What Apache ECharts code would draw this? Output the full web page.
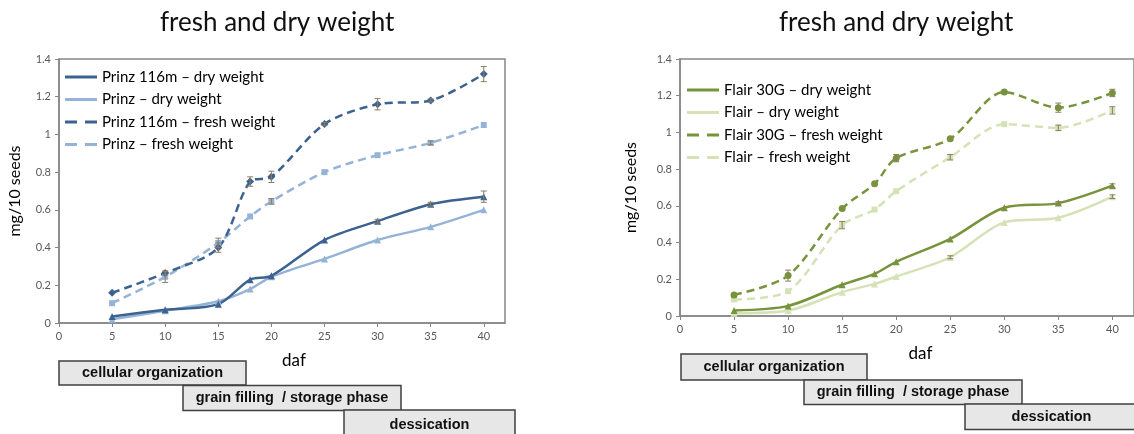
<!DOCTYPE html>
<html>
<head>
<meta charset="utf-8">
<script src="https://cdn.jsdelivr.net/npm/echarts@6/dist/echarts.min.js"></script>
<style>html,body{margin:0;padding:0;background:#fff}#c{width:1134px;height:434px}</style>
</head>
<body>
<div id="c"></div>
<script>
// ---- data ----
const daf = [5, 10, 15, 18, 20, 25, 30, 35, 40];
const xTicks = [0, 5, 10, 15, 20, 25, 30, 35, 40];
const yTicks = [0, 0.2, 0.4, 0.6, 0.8, 1, 1.2, 1.4];

const prinz116mDry   = [0.035, 0.07, 0.10, 0.23, 0.25, 0.44, 0.54, 0.63, 0.67];
const prinzDry       = [0.02, 0.065, 0.115, 0.18, 0.245, 0.34, 0.44, 0.51, 0.60];
const prinz116mFresh = [0.16, 0.265, 0.40, 0.75, 0.775, 1.055, 1.16, 1.18, 1.32];
const prinzFresh     = [0.105, 0.245, 0.425, 0.565, 0.645, 0.80, 0.89, 0.955, 1.05];
const prinz116mDryErr   = [0, 0, 0, 0, 0, 0, 0.01, 0.01, 0.03];
const prinzDryErr       = [0, 0, 0, 0, 0, 0, 0, 0, 0];
const prinz116mFreshErr = [0, 0.01, 0.025, 0.025, 0.03, 0.008, 0.03, 0.008, 0.04];
const prinzFreshErr     = [0, 0.03, 0.025, 0, 0.015, 0, 0, 0.01, 0];

const flair30gDry   = [0.03, 0.055, 0.17, 0.23, 0.295, 0.42, 0.59, 0.615, 0.71];
const flairDry      = [0.015, 0.03, 0.13, 0.175, 0.215, 0.32, 0.51, 0.535, 0.65];
const flair30gFresh = [0.115, 0.22, 0.585, 0.72, 0.86, 0.965, 1.22, 1.135, 1.215];
const flairFresh    = [0.09, 0.135, 0.495, 0.58, 0.68, 0.865, 1.045, 1.025, 1.12];
const flair30gDryErr   = [0, 0, 0, 0, 0, 0, 0, 0.008, 0.01];
const flairDryErr      = [0, 0, 0, 0, 0, 0.008, 0, 0, 0.01];
const flair30gFreshErr = [0, 0.03, 0, 0, 0.02, 0, 0, 0.025, 0.02];
const flairFreshErr    = [0, 0, 0.02, 0, 0, 0.015, 0, 0.015, 0.02];

const titles = ['fresh and dry weight', 'fresh and dry weight'];
const yName = 'mg/10 seeds';
const xName = 'daf';
const phases = ['cellular organization', 'grain filling  / storage phase', 'dessication'];

// ---- styles ----
const DARK_BLUE = '#3c6290', LIGHT_BLUE = '#95b3d7';
const DARK_GREEN = '#77933c', LIGHT_GREEN = '#d4e2b6';
const ERR = '#8c7d60';
const FONT = 'Lato';
const SOLID = 'path://M0,0H32V3H0Z';
const DASH = 'path://M0,0H12V3H0Z M20,0H32V3H20Z';

function pts(v) { return daf.map((d, i) => [d, v[i]]); }
function errPts(v, e) { return daf.map((d, i) => [d, v[i], e[i]]); }

function lineSeries(name, idx, vals, color, dashed, symbol, size) {
  return {
    name, type: 'line', xAxisIndex: idx, yAxisIndex: idx, data: pts(vals),
    smooth: 0.3, symbol, symbolSize: size, showSymbol: true,
    lineStyle: { color, width: 2.5, type: dashed ? [8, 5] : 'solid' },
    itemStyle: { color }, z: 3
  };
}
function errSeries(idx, vals, errs) {
  return {
    type: 'custom', xAxisIndex: idx, yAxisIndex: idx, data: errPts(vals, errs), z: 4,
    silent: true,
    renderItem(params, api) {
      const x = api.value(0), y = api.value(1), e = api.value(2);
      if (!e) return null;
      const t = api.coord([x, y + e]), b = api.coord([x, y - e]);
      const w = 3;
      const st = { stroke: ERR, lineWidth: 1 };
      return { type: 'group', children: [
        { type: 'line', shape: { x1: t[0], y1: t[1], x2: b[0], y2: b[1] }, style: st },
        { type: 'line', shape: { x1: t[0] - w, y1: t[1], x2: t[0] + w, y2: t[1] }, style: st },
        { type: 'line', shape: { x1: b[0] - w, y1: b[1], x2: b[0] + w, y2: b[1] }, style: st }
      ]};
    }
  };
}

function xAxis(idx, namePad) {
  return {
    type: 'value', gridIndex: idx, min: 0, max: 42, interval: 5,
    name: xName, nameLocation: 'middle', nameGap: 29,
    nameTextStyle: { fontFamily: FONT, fontSize: 17, color: '#000', padding: [0, 0, 0, namePad] },
    axisLine: { show: true, lineStyle: { color: '#868686', width: 1.5 } },
    axisTick: { show: true, length: 4, lineStyle: { color: '#868686' }, customValues: xTicks },
    axisLabel: { fontFamily: FONT, fontSize: 11, color: '#595959', margin: 8, customValues: xTicks },
    splitLine: { show: false }
  };
}
function yAxis(idx, gap) {
  return {
    type: 'value', gridIndex: idx, min: 0, max: 1.4, interval: 0.2,
    name: yName, nameLocation: 'middle', nameGap: gap, nameRotate: 90,
    nameTextStyle: { fontFamily: FONT, fontSize: 16, color: '#000' },
    axisLine: { show: true, lineStyle: { color: '#868686', width: 1.5 } },
    axisTick: { show: true, length: 4, lineStyle: { color: '#868686' } },
    axisLabel: { fontFamily: FONT, fontSize: 11, color: '#595959', margin: 8,
      formatter: v => String(Math.round(v * 10) / 10) },
    splitLine: { show: false }
  };
}
function legend(left, top, names, icons) {
  return {
    orient: 'vertical', left, top, padding: 0, itemWidth: 32, itemHeight: 3, itemGap: 6.5,
    data: names.map((n, i) => ({ name: n, icon: icons[i] })),
    textStyle: { fontFamily: FONT, fontSize: 15, color: '#000', lineHeight: 16, padding: [0, 0, 0, 0] },
    selectedMode: false
  };
}
function phaseBox(x, y, w, h, label) {
  return { type: 'group', x, y, children: [
    { type: 'rect', shape: { x: 0, y: 0, width: w, height: h }, style: { fill: '#e7e7e7', stroke: '#404040', lineWidth: 1.5 } },
    { type: 'text', x: w / 2, y: h / 2, style: { text: label, fill: '#111', font: 'bold 14.5px "Liberation Sans", Arial, sans-serif', align: 'center', verticalAlign: 'middle' } }
  ]};
}

const leftNames = ['Prinz 116m – dry weight', 'Prinz – dry weight', 'Prinz 116m – fresh weight', 'Prinz – fresh weight'];
const rightNames = ['Flair 30G – dry weight', 'Flair – dry weight', 'Flair 30G – fresh weight', 'Flair – fresh weight'];

const option = {
  backgroundColor: '#fff',
  animation: false,
  title: [
    { text: titles[0], left: 160, top: 10, padding: 0, textStyle: { fontFamily: FONT, fontSize: 26, fontWeight: 'normal', color: '#111' } },
    { text: titles[1], left: 779, top: 10, padding: 0, textStyle: { fontFamily: FONT, fontSize: 26, fontWeight: 'normal', color: '#111' } }
  ],
  grid: [
    { left: 59, top: 59, right: 629, bottom: 111, show: true, borderColor: '#868686', borderWidth: 1.5, backgroundColor: '#fff' },
    { left: 680, top: 59, right: -8, bottom: 118, show: true, borderColor: '#868686', borderWidth: 1.5, backgroundColor: '#fff' }
  ],
  xAxis: [xAxis(0, 24), xAxis(1, 27)],
  yAxis: [yAxis(0, 36), yAxis(1, 41)],
  legend: [
    legend(65, 69, leftNames, [SOLID, SOLID, DASH, DASH]),
    legend(687, 82, rightNames, [SOLID, SOLID, DASH, DASH])
  ],
  series: [
    lineSeries(leftNames[1], 0, prinzDry, LIGHT_BLUE, false, 'triangle', 7),
    lineSeries(leftNames[3], 0, prinzFresh, LIGHT_BLUE, true, 'rect', 6),
    lineSeries(leftNames[0], 0, prinz116mDry, DARK_BLUE, false, 'triangle', 7),
    lineSeries(leftNames[2], 0, prinz116mFresh, DARK_BLUE, true, 'diamond', 8),
    errSeries(0, prinzDry, prinzDryErr),
    errSeries(0, prinzFresh, prinzFreshErr),
    errSeries(0, prinz116mDry, prinz116mDryErr),
    errSeries(0, prinz116mFresh, prinz116mFreshErr),
    lineSeries(rightNames[1], 1, flairDry, LIGHT_GREEN, false, 'triangle', 7),
    lineSeries(rightNames[3], 1, flairFresh, LIGHT_GREEN, true, 'rect', 6),
    lineSeries(rightNames[0], 1, flair30gDry, DARK_GREEN, false, 'triangle', 7),
    lineSeries(rightNames[2], 1, flair30gFresh, DARK_GREEN, true, 'circle', 7),
    errSeries(1, flairDry, flairDryErr),
    errSeries(1, flairFresh, flairFreshErr),
    errSeries(1, flair30gDry, flair30gDryErr),
    errSeries(1, flair30gFresh, flair30gFreshErr)
  ],
  graphic: [
    phaseBox(59, 361, 187, 24, phases[0]),
    phaseBox(183, 385.5, 218, 25, phases[1]),
    phaseBox(344, 410, 171, 30, phases[2]),
    phaseBox(681, 354, 186, 26, phases[0]),
    phaseBox(804, 380, 218, 24.5, phases[1]),
    phaseBox(965, 404, 173, 25.5, phases[2])
  ]
};

const chart = echarts.init(document.getElementById('c'), null, { renderer: 'canvas', width: 1134, height: 434 });
chart.setOption(option);
</script>
</body>
</html>
